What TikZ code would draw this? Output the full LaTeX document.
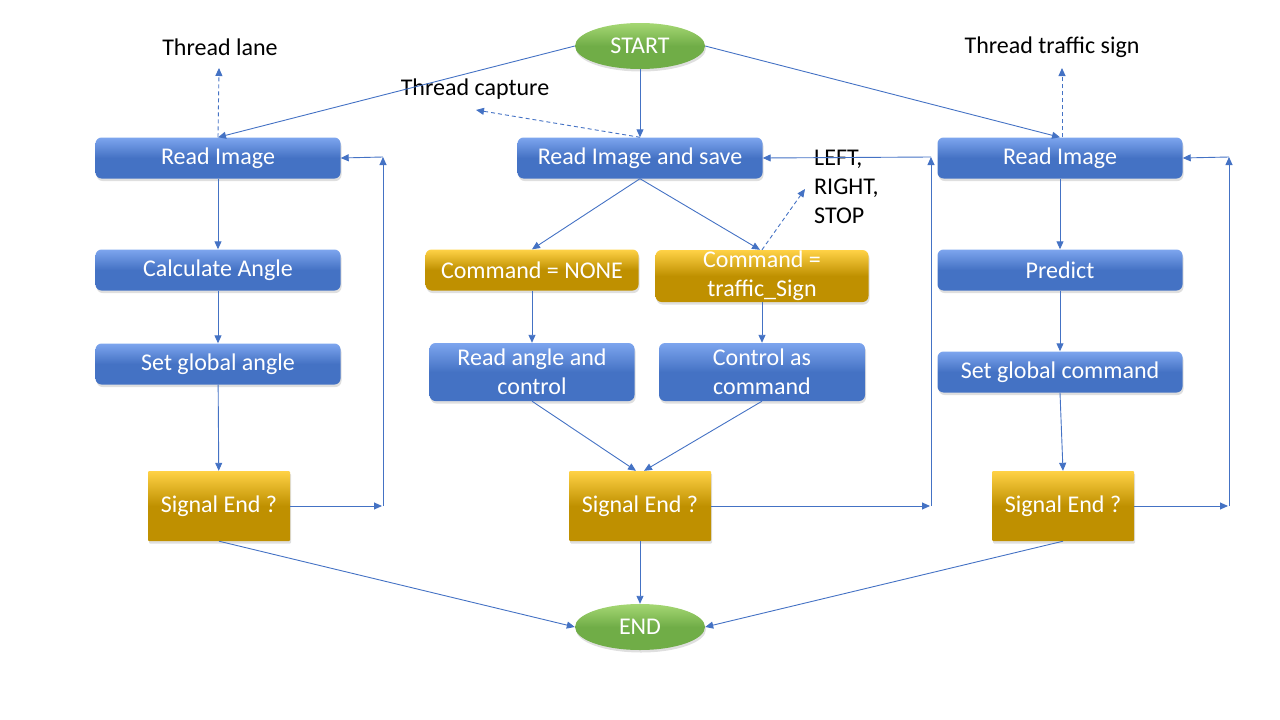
\documentclass[tikz,border=0pt]{standalone}
\usepackage{fontspec}
\setmainfont{Carlito}
\usetikzlibrary{shapes.geometric, arrows.meta, shadows}
\definecolor{boxblue}{RGB}{68, 114, 196}
\definecolor{boxbluetop}{RGB}{125, 165, 238}
\definecolor{boxgold}{RGB}{191, 144, 0}
\definecolor{boxgoldtop}{RGB}{255, 210, 70}
\definecolor{termgreen}{RGB}{112, 173, 71}
\definecolor{termgreentop}{RGB}{165, 215, 115}
\definecolor{linkblue}{RGB}{68, 114, 196}

\tikzset{
    bigfont/.style={font={\fontsize{24}{29}\selectfont}},
    procbox/.style={bigfont, text=white, align=center, inner sep=0pt,
        rounded corners=6pt, minimum width=245pt, minimum height=41pt,
        top color=boxbluetop, bottom color=boxblue, middle color=boxblue,
        drop shadow={shadow xshift=1pt, shadow yshift=-2.5pt, opacity=0.25}},
    cmdbox/.style={procbox, top color=boxgoldtop, bottom color=boxgold, middle color=boxgold,
        minimum width=213pt},
    testbox/.style={cmdbox, rounded corners=1pt, minimum width=142pt, minimum height=70pt},
    termnode/.style={ellipse, bigfont, text=white, inner sep=0pt,
        minimum width=130pt, minimum height=46pt,
        top color=termgreentop, bottom color=termgreen, middle color=termgreen,
        drop shadow={shadow xshift=1pt, shadow yshift=-2.5pt, opacity=0.25}},
    note/.style={bigfont, text=black, inner sep=0pt},
    link/.style={draw=linkblue, line width=0.9pt, -{Triangle[length=8pt, width=7pt]}},
    dashlink/.style={link, dash pattern=on 4pt off 3pt}
}

\begin{document}
\begin{tikzpicture}[x=1pt, y=-1pt]
    \useasboundingbox (0,0) rectangle (1280,720);

    % terminals
    \node[termnode] (start) at (640,46) {START};
    \node[termnode] (end) at (640,627) {END};

    % lane thread
    \node[procbox] (lread) at (218,158) {Read Image};
    \node[procbox] (langle) at (218,270) {Calculate Angle};
    \node[procbox] (lset) at (218,364) {Set global angle};
    \node[testbox] (lsig) at (219,506) {Signal End ?};

    % capture thread
    \node[procbox] (mread) at (640,158) {Read Image and save};
    \node[cmdbox] (cnone) at (532,270) {Command = NONE};
    \node[cmdbox, minimum height=52pt] (ctraf) at (762,276) {Command =\\traffic\_Sign};
    \node[procbox, minimum width=205pt, minimum height=58pt] (rangle) at (532,372) {Read angle and\\control};
    \node[procbox, minimum width=206pt, minimum height=58pt] (ctrl) at (762,372) {Control as\\command};
    \node[testbox] (msig) at (640,506) {Signal End ?};

    % traffic sign thread
    \node[procbox] (rread) at (1060,158) {Read Image};
    \node[procbox] (predict) at (1060,270) {Predict};
    \node[procbox] (rset) at (1060,372) {Set global command};
    \node[testbox] (rsig) at (1063,506) {Signal End ?};

    % labels
    \node[note] (tlane) at (220,47) {Thread lane};
    \node[note] (tcap) at (475,89) {Thread capture};
    \node[note] (tsign) at (1052,47) {Thread traffic sign};
    \node[note, anchor=north west, align=left] (cmds) at (814,150) {LEFT,\\RIGHT,\\STOP};

    \coordinate (lanetip) at (219,68);
    \coordinate (captip) at (476,110);
    \coordinate (signtip) at (1062,68);
    \coordinate (cmdtip) at (805,189);

    \coordinate (lloopa) at (382,506);
    \coordinate (lloopb) at (383,157);
    \coordinate (mloopa) at (930,506);
    \coordinate (mloopb) at (931,157);
    \coordinate (rloopa) at (1228,506);
    \coordinate (rloopb) at (1229,157);

    % start
    \draw[link] (start.west) -- (lread.north);
    \draw[link] (start.south) -- (mread.north);
    \draw[link] (start.east) -- (rread.north);

    % thread hints
    \draw[dashlink] (lread.north) -- (lanetip);
    \draw[dashlink] (mread.north) -- (captip);
    \draw[dashlink] ([xshift=2pt]rread.north) -- (signtip);
    \draw[dashlink] (ctraf.north) -- (cmdtip);

    % lane column
    \draw[link] (lread) -- (langle);
    \draw[link] (langle) -- (lset);
    \draw[link] (lset) -- (lsig);

    % capture column
    \draw[link] (mread.south) -- (cnone.north);
    \draw[link] (mread.south) -- ([xshift=-2pt]ctraf.north);
    \draw[link] (cnone) -- (rangle);
    \draw[link] (ctraf) -- (ctrl);
    \draw[link] (rangle.south) -- ([xshift=-4pt]msig.north);
    \draw[link] (ctrl.south) -- ([xshift=4pt]msig.north);

    % sign column
    \draw[link] (rread) -- (predict);
    \draw[link] (predict) -- (rset);
    \draw[link] (rset.south) -- (rsig.north);

    % loops back
    \draw[link] (lsig.east) -- (lloopa);
    \draw[link] (lloopa -| lloopb) -- (lloopb);
    \draw[link] (lloopb) -- (lread.east);
    \draw[link] (msig.east) -- (mloopa);
    \draw[link] (mloopa -| mloopb) -- (mloopb);
    \draw[link] (mloopb) -- (mread.east);
    \draw[link] (rsig.east) -- (rloopa);
    \draw[link] (rloopa -| rloopb) -- (rloopb);
    \draw[link] (rloopb) -- (rread.east);

    % end
    \draw[link] (lsig.south) -- (end.west);
    \draw[link] (msig.south) -- (end.north);
    \draw[link] (rsig.south) -- (end.east);
\end{tikzpicture}
\end{document}
